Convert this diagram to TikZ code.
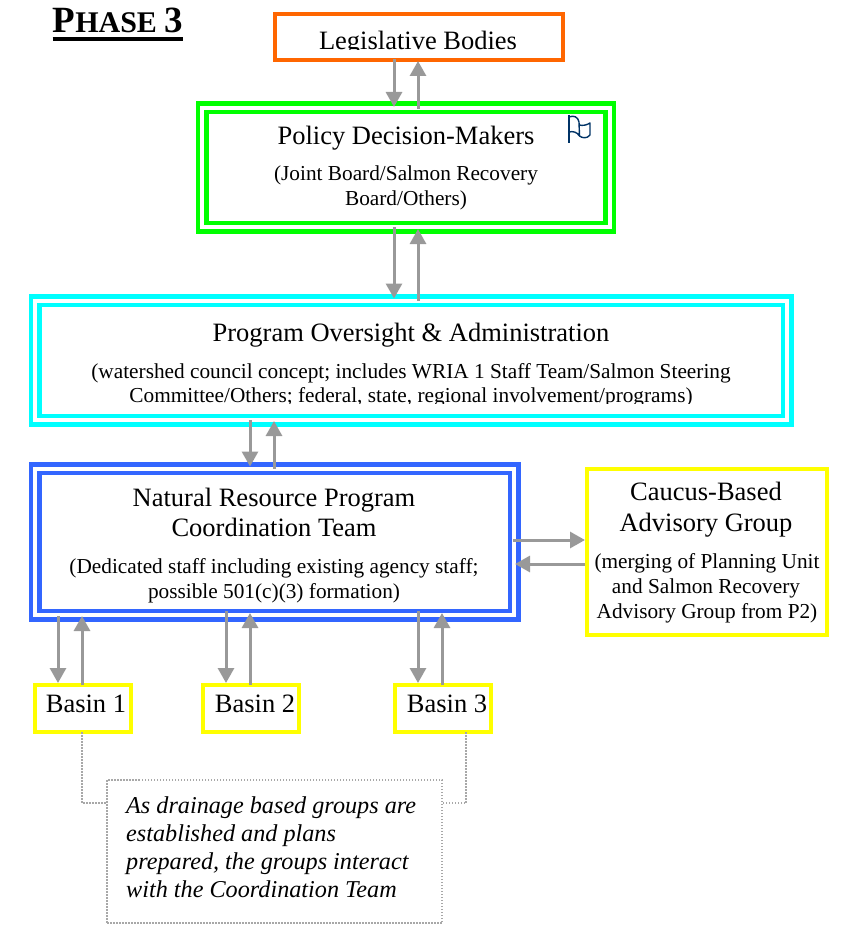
\documentclass[tikz,border=0pt]{standalone}
\usepackage{fontspec}
\setmainfont{Liberation Serif}
\usetikzlibrary{arrows.meta,calc}
\definecolor{orangeC}{HTML}{FF6600}
\definecolor{greenC}{HTML}{00FF00}
\definecolor{cyanC}{HTML}{00FFFF}
\definecolor{blueC}{HTML}{3366FF}
\definecolor{yellowC}{HTML}{FFFF00}
\definecolor{arrowC}{HTML}{999999}
\definecolor{flagC}{HTML}{003366}
\tikzset{
  x=1pt,y=-1pt,
  box/.style={rectangle,outer sep=0pt,inner sep=0pt,anchor=north west},
  single/.style={box,draw=#1,line width=4.2pt},
  twin/.style={box,draw=#1,line width=4.5pt,double=white,double distance=4pt},
  headtxt/.style={anchor=base,inner sep=0pt,font=\fontsize{26.5}{30}\selectfont},
  subtxt/.style={anchor=base,inner sep=0pt,font=\fontsize{21.3}{25}\selectfont},
  notetxt/.style={anchor=base west,inner sep=0pt,font=\fontsize{24.2}{28}\selectfont\itshape},
  arr/.style={draw=arrowC,line width=3pt,-{Triangle[length=15pt,width=16pt]}},
  dots/.style={draw=arrowC!85,line width=1.5pt,dash pattern=on 1.5pt off 1.5pt},
}
\begin{document}
\begin{tikzpicture}
\useasboundingbox (0,0) rectangle (841,925);
% Boxes
\node[single=orangeC,minimum width=288pt,minimum height=46pt] (legis) at (275,14) {};
\node[twin=greenC,minimum width=407.5pt,minimum height=119.5pt] (policy) at (202,108) {};
\node[twin=cyanC,minimum width=752pt,minimum height=119.5pt] (oversight) at (35,300.5) {};
\node[twin=blueC,minimum width=479pt,minimum height=146.5pt] (nrp) at (35,468.5) {};
\node[single=yellowC,minimum width=240pt,minimum height=166pt] (caucus) at (587,469) {};
\node[single=yellowC,minimum width=96pt,minimum height=47pt] (b1) at (35,685) {};
\node[single=yellowC,minimum width=96pt,minimum height=47pt] (b2) at (203,685) {};
\node[single=yellowC,minimum width=96pt,minimum height=47pt] (b3) at (395,685) {};
\node[box,dots,minimum width=335pt,minimum height=143pt] (note) at (107,780) {};
% Column guides
\coordinate (xa) at (394,0); \coordinate (xb) at (418,0);
\coordinate (xc) at (250,0); \coordinate (xd) at (274,0);
\coordinate (xe) at (58,0);  \coordinate (xf) at (82,0);
\coordinate (xg) at (226,0); \coordinate (xh) at (442,0);
\coordinate (ya) at (0,540); \coordinate (yb) at (0,564);
\coordinate (xn) at (466,0); \coordinate (yn) at (0,803);
% Arrows
\draw[arr] ([yshift=1pt]legis.south -| xa) -- ([yshift=1pt]policy.north -| xa);
\draw[arr] ([yshift=-1pt]policy.north -| xb) -- ([yshift=-1pt]legis.south -| xb);
\draw[arr] (policy.south -| xa) -- ([yshift=2pt]oversight.north -| xa);
\draw[arr] (oversight.north -| xb) -- ([yshift=-1.5pt]policy.south -| xb);
\draw[arr] (oversight.south -| xc) -- ([yshift=2pt]nrp.north -| xc);
\draw[arr] (nrp.north -| xd) -- ([yshift=-1pt]oversight.south -| xd);
\draw[arr] ([xshift=-1pt]nrp.east |- ya) -- ([xshift=-2pt]caucus.west |- ya);
\draw[arr] ([xshift=-2pt]caucus.west |- yb) -- ([xshift=1pt]nrp.east |- yb);
\draw[arr] ([yshift=-1pt]nrp.south -| xe) -- ([yshift=2pt]b1.north -| xe);
\draw[arr] (b1.north -| xf) -- ([yshift=-1pt]nrp.south -| xf);
\draw[arr] ([yshift=4pt]nrp.south -| xg) -- ([yshift=2pt]b2.north -| xg);
\draw[arr] (b2.north -| xc) -- ([yshift=2pt]nrp.south -| xc);
\draw[arr] ([yshift=4pt]nrp.south -| xb) -- ([yshift=2pt]b3.north -| xb);
\draw[arr] (b3.north -| xh) -- ([yshift=2pt]nrp.south -| xh);
% Dotted connectors
\draw[dots] (b1.south -| xf) -- (xf |- yn) -- (note.west |- yn);
\draw[dots] (b3.south -| xn) -- (xn |- yn) -- (note.east |- yn);
% Text
\node[anchor=base west,inner sep=0pt,font=\bfseries] (phase) at (52.5,33)
  {\fontsize{37}{40}\selectfont P\fontsize{30}{40}\selectfont HASE \fontsize{37}{40}\selectfont 3};
\draw[line width=4pt,black] ([yshift=-5.7pt]phase.base west) -- ([yshift=-5.7pt]phase.base east);
\begin{scope}
  \clip (legis.north west) rectangle ([yshift=10pt]legis.south east);
  \node[headtxt] (tlegis) at (418,49.5) {Legislative Bodies};
\end{scope}
\node[headtxt] (tpolicy) at (406,145) {Policy Decision-Makers};
\node[subtxt] (tp1) at (406,181) {(Joint Board/Salmon Recovery};
\node[subtxt] (tp2) at (406,206) {Board/Others)};
\node[headtxt] (tover) at (411,341) {Program Oversight \& Administration};
\node[subtxt] (to1) at (411,378) {(watershed council concept; includes WRIA 1 Staff Team/Salmon Steering};
\begin{scope}
  \clip (oversight.west |- 0,380) rectangle (oversight.east |- 0,403);
  \node[subtxt] (to2) at (411,402) {Committee/Others; federal, state, regional involvement/programs)};
\end{scope}
\node[headtxt] (tn1) at (274,506) {Natural Resource Program};
\node[headtxt] (tn2) at (274,536) {Coordination Team};
\node[subtxt] (tn3) at (274,573) {(Dedicated staff including existing agency staff;};
\node[subtxt] (tn4) at (274,598) {possible 501(c)(3) formation)};
\node[headtxt] (tc1) at (706,500) {Caucus-Based};
\node[headtxt] (tc2) at (706,531) {Advisory Group};
\node[subtxt] (tc3) at (707,568) {(merging of Planning Unit};
\node[subtxt] (tc4) at (706,593) {and Salmon Recovery};
\node[subtxt] (tc5) at (707,618) {Advisory Group from P2)};
\node[headtxt] (tb1) at (86,712) {Basin 1};
\node[headtxt] (tb2) at (255,712) {Basin 2};
\node[headtxt] (tb3) at (447,712) {Basin 3};
\node[notetxt] (tm1) at (126,813) {As drainage based groups are};
\node[notetxt] (tm2) at (126,841) {established and plans};
\node[notetxt] (tm3) at (126,869) {prepared, the groups interact};
\node[notetxt] (tm4) at (126,897) {with the Coordination Team};
% Flag
\draw[flagC,line width=1.8pt] (569,115) -- (569,143);
\draw[flagC,line width=1.4pt,line join=round] (569,117) .. controls (574,115) and (578,117) .. (579,122)
  -- (579.5,136) .. controls (577,132) and (573,131) .. (569,132);
\draw[flagC,line width=1.4pt,line join=round] (579,125) .. controls (583,126) and (587,125) .. (590,123)
  -- (590,135) .. controls (587,139) and (582,138) .. (579.5,136);
\end{tikzpicture}
\end{document}
